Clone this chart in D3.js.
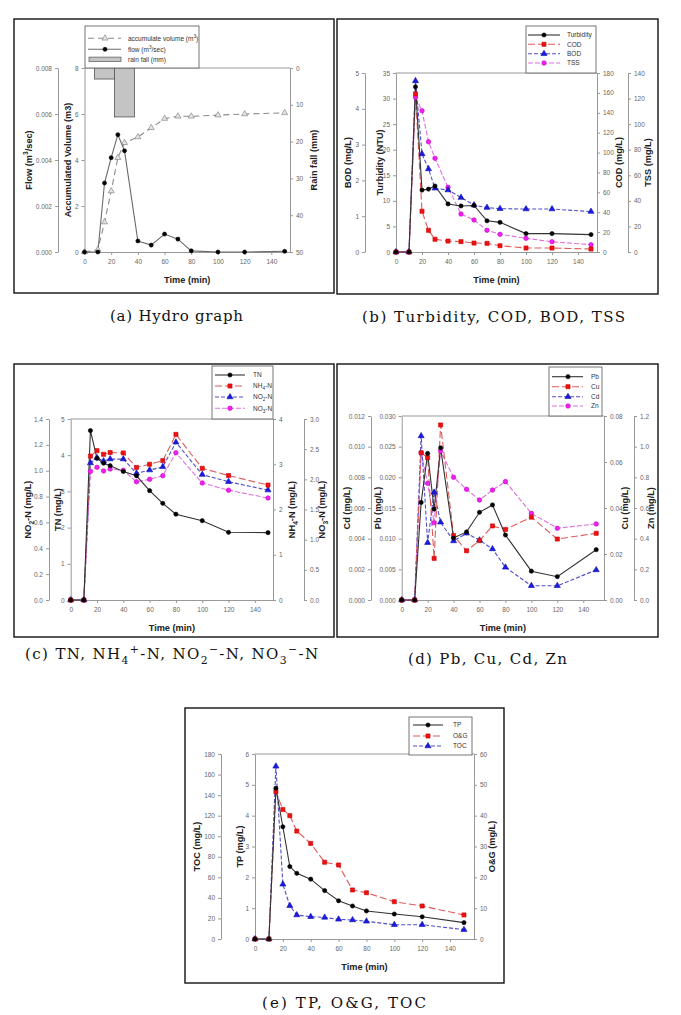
<!DOCTYPE html>
<html><head><meta charset="utf-8">
<script src="https://cdn.jsdelivr.net/npm/d3@7"></script>
<style>body{margin:0;background:#fff} svg{display:block}</style>
</head><body>
<script>
// ---------- DATA ----------
const time = [0,10,15,20,25,30,40,50,60,70,80,100,120,150];
const xTicks = [0,20,40,60,80,100,120,140];
// (a) Hydro graph
const accumVolume = [0,0.1,1.3,2.65,4.1,4.75,5.0,5.4,5.8,5.9,5.9,5.95,6.0,6.05];
const flow = [0,0,0.0030,0.0041,0.0051,0.0044,0.00048,0.0003,0.00078,0.00056,0.00005,0,0,0.00003];
const rainTime = [15,30];
const rainFall = [3,13.3];
const flowTicks = [0,0.002,0.004,0.006,0.008];
const volumeTicks = [0,2,4,6,8];
const rainTicks = [0,10,20,30,40,50];
// (b)
const turbidity = [0,0,32.3,12.1,12.3,12.9,9.4,9.0,9.1,6.1,5.8,3.6,3.6,3.4];
const cod = [0,0,159,41,21.8,12.8,11,10.4,9,8.7,6.3,4,4,3];
const bod = [0,0,4.78,2.74,2.32,1.78,1.73,1.52,1.31,1.24,1.21,1.2,1.2,1.13];
const tss = [0,0,121,110.5,86.2,73.3,50.6,29.7,25,17,13.8,10.7,8,5.7];
const bodTicks = [0,1,2,3,4,5];
const turbTicks = [0,5,10,15,20,25,30,35];
const codTicks = [0,20,40,60,80,100,120,140,160,180];
const tssTicks = [0,20,40,60,80,100,120,140];
// (c)
const tn = [0,0,4.68,3.91,3.78,3.71,3.55,3.43,3.02,2.67,2.37,2.19,1.87,1.86];
const nh4 = [0,0,3.18,3.30,3.22,3.26,3.25,2.93,3.0,3.08,3.66,2.91,2.75,2.54];
const no2 = [0,0,1.06,1.10,1.075,1.09,1.09,0.98,1.005,1.03,1.22,0.97,0.915,0.85];
const no3 = [0,0,2.13,2.2,2.14,2.17,2.15,1.96,2.0,2.06,2.44,1.94,1.82,1.69];
const no2Ticks = [0,0.2,0.4,0.6,0.8,1.0,1.2,1.4];
const tnTicks = [0,1,2,3,4,5];
const nh4Ticks = [0,1,2,3,4];
const no3Ticks = [0,0.5,1.0,1.5,2.0,2.5,3.0];
// (d)
const pb = [0,0,0.0159,0.0239,0.0148,0.0248,0.0101,0.0111,0.0143,0.0155,0.0106,0.0047,0.0038,0.0082];
const cu = [0,0,0.064,0.0619,0.0181,0.0761,0.028,0.0214,0.0258,0.0322,0.0307,0.036,0.0265,0.029];
const cd = [0,0,0.0107,0.00374,0.00702,0.00507,0.00385,0.00435,0.0039,0.00333,0.00213,0.00093,0.00093,0.00196];
const zn = [0,0,0.961,0.761,0.504,0.972,0.80,0.722,0.652,0.717,0.772,0.565,0.468,0.496];
const cdTicks = [0,0.002,0.004,0.006,0.008,0.010,0.012];
const pbTicks = [0,0.005,0.010,0.015,0.020,0.025,0.030];
const cuTicks = [0,0.02,0.04,0.06,0.08];
const znTicks = [0,0.2,0.4,0.6,0.8,1.0,1.2];
// (e)
const tp = [0,0,4.89,3.64,2.35,2.13,1.94,1.57,1.24,1.07,0.91,0.81,0.72,0.53];
const og = [0,0,47.8,42,40,35,31,24.9,24,15.9,15,12.1,10.7,7.8];
const toc = [0,0,168,53.2,32.4,23.3,21.7,21,19.1,18.5,17.2,13.9,13.9,9.1];
const tocTicks = [0,20,40,60,80,100,120,140,160,180];
const tpTicks = [0,1,2,3,4,5,6];
const ogTicks = [0,10,20,30,40,50,60];

// ---------- STYLES ----------
const STY = {
  black:   {line:'#333', dash:null,    fill:'#000', stroke:'#000', shape:d3.symbolCircle,   size:14},
  red:     {line:'#e05a5a', dash:'7,3', fill:'#ee1111', stroke:'#cc0000', shape:d3.symbolSquare, size:17},
  blue:    {line:'#5050c8', dash:'4,2', fill:'#1a1ae0', stroke:'#1010b0', shape:d3.symbolTriangle, size:16},
  magenta: {line:'#e070e0', dash:'5,2', fill:'#ee22ee', stroke:'#cc00cc', shape:d3.symbolCircle, size:16},
  flow:    {line:'#6a6a6a', dash:null,  fill:'#000', stroke:'#000', shape:d3.symbolCircle, size:13},
  accum:   {line:'#8a8a8a', dash:'6,4', fill:'#e4e4e4', stroke:'#777', shape:d3.symbolTriangle, size:16}
};
const FONT = '"Liberation Sans", Arial, sans-serif';
const svg = d3.select('body').append('svg').attr('width',681).attr('height',1015)
  .style('font-family', FONT);

function rich(textSel, parts, size){
  let shift = 0;
  parts.forEach(p=>{
    if (typeof p === 'string') p = {t:p};
    const target = p.sub ? 0.3*size : p.sup ? -0.42*size : 0;
    const ts = textSel.append('tspan').text(p.t).attr('dy', target - shift);
    if (p.sub || p.sup) ts.attr('font-size', size*0.72);
    shift = target;
  });
}

function panel(cfg){
  const g = svg.append('g');
  const [fx0,fy0,fx1,fy1] = cfg.frame;
  g.append('rect').attr('x',fx0).attr('y',fy0).attr('width',fx1-fx0).attr('height',fy1-fy0)
    .attr('fill','none').attr('stroke','#111').attr('stroke-width',1.4);
  const x = d3.scaleLinear().domain([0,cfg.xMax]).range([cfg.left,cfg.right]);
  g.append('line').attr('x1',cfg.left).attr('x2',cfg.right).attr('y1',cfg.top).attr('y2',cfg.top)
    .attr('stroke','#999').attr('stroke-width',1);
  const scales = cfg.axes.map(ax=>{
    const y = d3.scaleLinear().domain(ax.domain).range(ax.reverse?[cfg.top,cfg.bottom]:[cfg.bottom,cfg.top]);
    const gen = (ax.side==='left'?d3.axisLeft(y):d3.axisRight(y))
      .tickValues(ax.ticks).tickFormat(d3.format(ax.fmt)).tickSize(3).tickSizeOuter(0).tickPadding(3);
    const a = g.append('g').attr('transform',`translate(${ax.x},0)`).call(gen);
    a.select('.domain').attr('stroke','#999');
    a.selectAll('.tick line').attr('stroke','#999');
    a.selectAll('.tick text').attr('fill','#666').attr('font-size',6.5).attr('font-family',FONT);
    const ls = 9.2;
    const t = g.append('text')
      .attr('transform',`translate(${ax.labelX+0.36*ls},${(cfg.top+cfg.bottom)/2}) rotate(-90)`)
      .attr('text-anchor','middle').attr('font-size',ls).attr('font-weight','bold').attr('fill','#222');
    rich(t, ax.label, ls);
    return y;
  });
  const xa = g.append('g').attr('transform',`translate(0,${cfg.bottom})`)
    .call(d3.axisBottom(x).tickValues(xTicks).tickSize(3).tickSizeOuter(0).tickPadding(4));
  xa.select('.domain').attr('stroke','#999');
  xa.selectAll('.tick line').attr('stroke','#999');
  xa.selectAll('.tick text').attr('fill','#666').attr('font-size',6.5).attr('font-family',FONT);
  g.append('text').attr('x',(cfg.left+cfg.right)/2).attr('y',cfg.bottom+31)
    .attr('text-anchor','middle').attr('font-size',9.2).attr('font-weight','bold').attr('fill','#222')
    .text('Time (min)');

  if (cfg.bars){
    const b = cfg.bars, y = scales[b.axis];
    g.selectAll('.bar').data(b.t).join('rect')
      .attr('x',d=>x(d-b.w/2)).attr('width',d=>x(d+b.w/2)-x(d-b.w/2))
      .attr('y',y(0)).attr('height',(d,i)=>y(b.v[i])-y(0))
      .attr('fill','#c4c4c4').attr('stroke','#555').attr('stroke-width',0.8);
  }
  cfg.series.forEach(s=>{
    const st = STY[s.style], y = scales[s.axis];
    const pts = time.map((t,i)=>[t,s.values[i]]);
    g.append('path').datum(pts)
      .attr('d', d3.line().x(d=>x(d[0])).y(d=>y(d[1])))
      .attr('fill','none').attr('stroke',st.line).attr('stroke-width',1.1)
      .attr('stroke-dasharray',st.dash);
  });
  cfg.series.forEach(s=>{
    const st = STY[s.style], y = scales[s.axis];
    g.selectAll(null).data(time.map((t,i)=>[t,s.values[i]])).join('path')
      .attr('transform',d=>`translate(${x(d[0])},${y(d[1])})`)
      .attr('d', d3.symbol().type(st.shape).size(st.size))
      .attr('fill',st.fill).attr('stroke',st.stroke).attr('stroke-width',0.6);
  });
  const L = cfg.legend;
  g.append('rect').attr('x',L.box[0]).attr('y',L.box[1]).attr('width',L.box[2]-L.box[0]).attr('height',L.box[3]-L.box[1])
    .attr('fill','#fff').attr('stroke','#666').attr('stroke-width',0.9);
  L.items.forEach((it,i)=>{
    const yy = L.rows[i];
    if (it.style==='bar'){
      g.append('rect').attr('x',L.x1+1).attr('y',yy-2.2).attr('width',L.x2-L.x1-1).attr('height',4.4)
        .attr('fill','#c4c4c4').attr('stroke','#555').attr('stroke-width',0.7);
    } else {
      const st = STY[it.style];
      g.append('line').attr('x1',L.x1).attr('x2',L.x2).attr('y1',yy).attr('y2',yy)
        .attr('stroke',st.line).attr('stroke-width',1.1).attr('stroke-dasharray',st.dash);
      g.append('path').attr('transform',`translate(${L.xm},${yy})`)
        .attr('d', d3.symbol().type(st.shape).size(st.size))
        .attr('fill',st.fill).attr('stroke',st.stroke).attr('stroke-width',0.6);
    }
    const t = g.append('text').attr('x',L.xt).attr('y',yy+2.3).attr('font-size',6.5).attr('fill','#333');
    rich(t, it.label, 6.5);
  });
}

function caption(parts, cx, baseline, len){
  const t = svg.append('text').attr('x',cx).attr('y',baseline).attr('text-anchor','middle')
    .attr('font-family','"DejaVu Serif", "Liberation Serif", serif').attr('font-size',15).attr('fill','#111')
    .attr('textLength',len).attr('lengthAdjust','spacing');
  rich(t, parts, 15);
}

// ---------- PANELS ----------
panel({
  frame:[14,19,334,293], left:84.5, right:290, top:68, bottom:252, xMax:154,
  axes:[
    {side:'left', x:58, domain:[0,0.008], ticks:flowTicks, fmt:'.3f', label:['Flow (m',{t:'3',sup:true},'/sec)'], labelX:29},
    {side:'left', x:84.5, domain:[0,8], ticks:volumeTicks, fmt:'d', label:['Accumulated Volume (m3)'], labelX:68},
    {side:'right', x:290, domain:[0,50], reverse:true, ticks:rainTicks, fmt:'d', label:['Rain fall (mm)'], labelX:314}
  ],
  bars:{t:rainTime, v:rainFall, w:15, axis:2},
  series:[
    {values:accumVolume, axis:1, style:'accum'},
    {values:flow, axis:0, style:'flow'}
  ],
  legend:{box:[85,26,199,68], rows:[38.3,49.3,59.3], x1:88, x2:121, xm:105, xt:128,
    items:[{style:'accum',label:['accumulate volume (m',{t:'3',sup:true},')']},
           {style:'flow',label:['flow (m',{t:'3',sup:true},'/sec)']},
           {style:'bar',label:['rain fall (mm)']}]}
});

panel({
  frame:[337,19,658,294], left:396, right:597, top:73, bottom:252, xMax:154.6,
  axes:[
    {side:'left', x:365, domain:[0,5], ticks:bodTicks, fmt:'d', label:['BOD (mg/L)'], labelX:348},
    {side:'left', x:396, domain:[0,35], ticks:turbTicks, fmt:'d', label:['Turbidity (NTU)'], labelX:380},
    {side:'right', x:597, domain:[0,180], ticks:codTicks, fmt:'d', label:['COD (mg/L)'], labelX:619},
    {side:'right', x:628, domain:[0,140], ticks:tssTicks, fmt:'d', label:['TSS (mg/L)'], labelX:648}
  ],
  series:[
    {values:tss, axis:3, style:'magenta'},
    {values:bod, axis:0, style:'blue'},
    {values:cod, axis:2, style:'red'},
    {values:turbidity, axis:1, style:'black'}
  ],
  legend:{box:[526,26,596,73], rows:[35,44.3,53.7,63], x1:528, x2:560, xm:544, xt:567,
    items:[{style:'black',label:['Turbidity']},{style:'red',label:['COD']},
           {style:'blue',label:['BOD']},{style:'magenta',label:['TSS']}]}
});

panel({
  frame:[14,364,334,637], left:70.7, right:273, top:419, bottom:600, xMax:153.8,
  axes:[
    {side:'left', x:49, domain:[0,1.4], ticks:no2Ticks, fmt:'.1f', label:['NO',{t:'2',sub:true},'-N (mg/L)'], labelX:28},
    {side:'left', x:70.7, domain:[0,5], ticks:tnTicks, fmt:'d', label:['TN (mg/L)'], labelX:58},
    {side:'right', x:273, domain:[0,4], ticks:nh4Ticks, fmt:'d', label:['NH',{t:'4',sub:true},'-N (mg/L)'], labelX:292},
    {side:'right', x:304, domain:[0,3], ticks:no3Ticks, fmt:'.1f', label:['NO',{t:'3',sub:true},'-N (mg/L)'], labelX:322}
  ],
  series:[
    {values:no3, axis:3, style:'magenta'},
    {values:no2, axis:0, style:'blue'},
    {values:nh4, axis:2, style:'red'},
    {values:tn, axis:1, style:'black'}
  ],
  legend:{box:[212,366,273,419], rows:[375,386,397,408.3], x1:215, x2:245, xm:230, xt:253,
    items:[{style:'black',label:['TN']},{style:'red',label:['NH',{t:'4',sub:true},'-N']},
           {style:'blue',label:['NO',{t:'2',sub:true},'-N']},{style:'magenta',label:['NO',{t:'3',sub:true},'-N']}]}
});

panel({
  frame:[337,364,658,637], left:401.7, right:604, top:416, bottom:600, xMax:156,
  axes:[
    {side:'left', x:371, domain:[0,0.012], ticks:cdTicks, fmt:'.3f', label:['Cd (mg/L)'], labelX:347},
    {side:'left', x:401.7, domain:[0,0.03], ticks:pbTicks, fmt:'.3f', label:['Pb (mg/L)'], labelX:378},
    {side:'right', x:604, domain:[0,0.08], ticks:cuTicks, fmt:'.2f', label:['Cu (mg/L)'], labelX:625},
    {side:'right', x:634, domain:[0,1.2], ticks:znTicks, fmt:'.1f', label:['Zn (mg/L)'], labelX:651}
  ],
  series:[
    {values:zn, axis:3, style:'magenta'},
    {values:cd, axis:0, style:'blue'},
    {values:cu, axis:2, style:'red'},
    {values:pb, axis:1, style:'black'}
  ],
  legend:{box:[549,367,602,416], rows:[376.7,386.7,396.7,406], x1:552, x2:583, xm:568, xt:591,
    items:[{style:'black',label:['Pb']},{style:'red',label:['Cu']},
           {style:'blue',label:['Cd']},{style:'magenta',label:['Zn']}]}
});

panel({
  frame:[185,708,504,983], left:255, right:474, top:754, bottom:939, xMax:157.2,
  axes:[
    {side:'left', x:221, domain:[0,180], ticks:tocTicks, fmt:'d', label:['TOC (mg/L)'], labelX:197},
    {side:'left', x:255, domain:[0,6], ticks:tpTicks, fmt:'d', label:['TP (mg/L)'], labelX:240},
    {side:'right', x:474, domain:[0,60], ticks:ogTicks, fmt:'d', label:['O&G (mg/L)'], labelX:492}
  ],
  series:[
    {values:toc, axis:0, style:'blue'},
    {values:og, axis:2, style:'red'},
    {values:tp, axis:1, style:'black'}
  ],
  legend:{box:[409,717,472,755], rows:[725,736,746], x1:413, x2:443, xm:428, xt:453,
    items:[{style:'black',label:['TP']},{style:'red',label:['O&G']},{style:'blue',label:['TOC']}]}
});

// ---------- CAPTIONS ----------
caption(['(a) Hydro graph'], 176.5, 321, 133);
caption(['(b) Turbidity, COD, BOD, TSS'], 493.5, 321.5, 263);
caption(['(c) TN, NH',{t:'4',sub:true},{t:'+',sup:true},'-N, NO',{t:'2',sub:true},{t:'\u2212',sup:true},'-N, NO',{t:'3',sub:true},{t:'\u2212',sup:true},'-N'], 171.5, 659, 293);
caption(['(d) Pb, Cu, Cd, Zn'], 487.5, 664, 159);
caption(['(e) TP, O&G, TOC'], 344, 1008, 164);
</script>
</body></html>
